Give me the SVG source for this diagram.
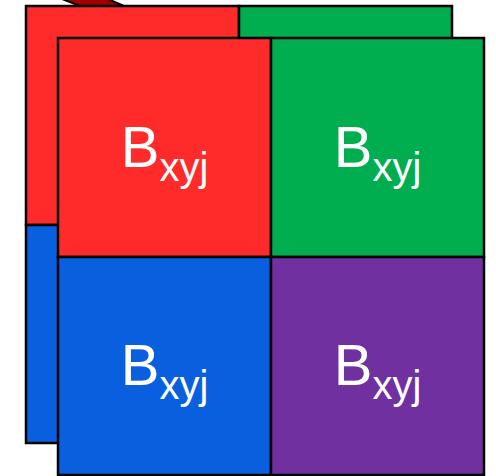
<svg xmlns="http://www.w3.org/2000/svg" width="496" height="476" viewBox="0 0 496 476">
<style>
.c{stroke:#000;stroke-width:2.5}
.r{fill:#ff2a2a}.g{fill:#00ad4f}.b{fill:#0a5fdf}.p{fill:#7030a0}
.t{font-family:"Liberation Sans",Arial,sans-serif;fill:#fff;font-size:58px;text-anchor:middle}
.s{font-size:40px}
</style>
<rect width="496" height="476" fill="#fff"/>
<g id="edge-sliver"><polygon points="62,-1 108,-1 124,6 80,6" fill="#a00000" stroke="#000" stroke-width="2"/></g>
<g id="back-layer">
<rect class="c r" x="26" y="6" width="213" height="219"/>
<rect class="c g" x="239" y="6" width="213" height="219"/>
<rect class="c b" x="26" y="225" width="213" height="218"/>
<rect class="c p" x="239" y="225" width="213" height="218"/>
</g>
<g id="node-tl"><rect class="c r" x="58" y="38" width="213" height="219"/><text class="t" x="164.5" y="167">B<tspan class="s" dy="14">xyj</tspan></text></g>
<g id="node-tr"><rect class="c g" x="271" y="38" width="213" height="219"/><text class="t" x="377.5" y="167">B<tspan class="s" dy="14">xyj</tspan></text></g>
<g id="node-bl"><rect class="c b" x="58" y="257" width="213" height="218"/><text class="t" x="164.5" y="385">B<tspan class="s" dy="14">xyj</tspan></text></g>
<g id="node-br"><rect class="c p" x="271" y="257" width="213" height="218"/><text class="t" x="377.5" y="385">B<tspan class="s" dy="14">xyj</tspan></text></g>
<g id="connectors"></g>
</svg>
